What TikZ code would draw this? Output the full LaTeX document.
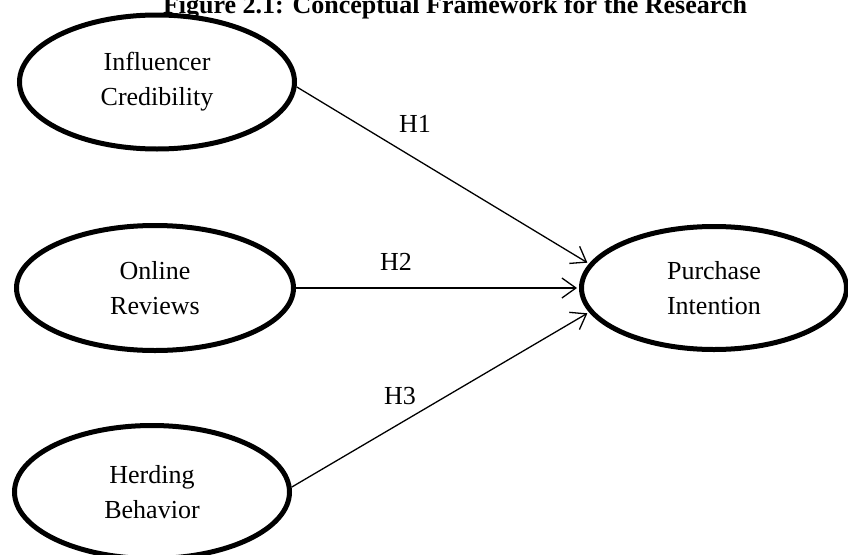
\documentclass[tikz,border=0pt]{standalone}
\usepackage{fontspec}
\setmainfont{Liberation Serif}
\usetikzlibrary{arrows.meta, shapes.geometric}

\begin{document}
\begin{tikzpicture}[x=1pt, y=-1pt,
        cons/.style={ellipse, draw, line width=5pt, inner sep=0pt, align=center, font=\fontsize{26}{35}\selectfont},
        conn/.style={-{Straight Barb[length=14pt, width=20pt]}, line width=1.3pt, shorten >=2pt},
        hlbl/.style={anchor=base, font=\fontsize{26}{35}\selectfont},
        ttl/.style={anchor=base, font=\fontsize{26}{35}\selectfont\bfseries}
      ]
        \useasboundingbox (0,0) rectangle (848,554);
        \node[ttl] (title) at (455,13) {Figure 2.1: Conceptual Framework for the Research};
        \node[cons, minimum width=275pt, minimum height=134pt] (ic) at (157,82)  {Influencer\\Credibility};
        \node[cons, minimum width=277pt, minimum height=125pt] (or) at (155,288) {Online\\Reviews};
        \node[cons, minimum width=275pt, minimum height=133pt] (hb) at (152,492) {Herding\\Behavior};
        \node[cons, minimum width=265pt, minimum height=123pt] (pi) at (714,288) {Purchase\\Intention};
        \draw[conn] (ic.-2) -- (pi.169);
        \draw[conn] (or.east) -- (pi.west);
        \draw[conn] (hb.2) -- (pi.191);
        \node[hlbl] (h1) at (415,132) {H1};
        \node[hlbl] (h2) at (396,270) {H2};
        \node[hlbl] (h3) at (400,404) {H3};
      \end{tikzpicture}
\end{document}
